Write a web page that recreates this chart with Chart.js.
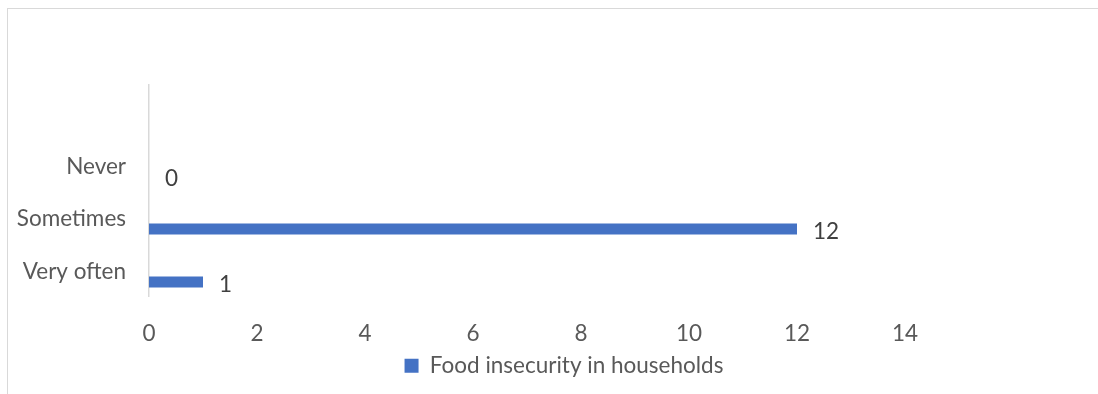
<!DOCTYPE html>
<html>
<head>
<meta charset="utf-8">
<script src="https://cdn.jsdelivr.net/npm/chart.js@4/dist/chart.umd.min.js"></script>
<style>
  html, body { margin: 0; padding: 0; background: #ffffff; }
  body { width: 1098px; height: 394px; position: relative; overflow: hidden; }
  #frame {
    position: absolute; left: 7px; top: 8px; width: 1091px; height: 386px;
    box-sizing: border-box; border-top: 1px solid #d9d9d9; border-left: 1px solid #d9d9d9;
  }
  #chart { display: block; }
</style>
</head>
<body>
<div id="frame"><canvas id="chart" width="1090" height="385"></canvas></div>
<script>
// Response categories, top to bottom (the first slot is an unused band)
const categories = ['', 'Never', 'Sometimes', 'Very often'];
// Number of households per response
const householdCounts = [null, 0, 12, 1];
// Companion series with no values: it only reserves the upper slot of each band
const emptySeries = [null, null, null, null];
const seriesName = 'Food insecurity in households';
const xTicks = [0, 2, 4, 6, 8, 10, 12, 14];

const FONT = 'Lato, "Open Sans", sans-serif';
const FONT_SIZE = 22.5;

// Writes each value just past the end of its bar
const valueLabels = {
  id: 'valueLabels',
  afterDatasetsDraw(chart) {
    const ctx = chart.ctx;
    const meta = chart.getDatasetMeta(1);
    const data = chart.data.datasets[1].data;
    ctx.save();
    ctx.font = FONT_SIZE + 'px ' + FONT;
    ctx.fillStyle = '#404040';
    ctx.textAlign = 'left';
    ctx.textBaseline = 'middle';
    meta.data.forEach((bar, i) => {
      const v = data[i];
      if (v === null || v === undefined) return;
      ctx.fillText(String(v), bar.x + 16, bar.y + 3);
    });
    ctx.restore();
  }
};

// Nudges the legend band so its entry sits a little right of the canvas centre
const legendShift = {
  id: 'legendShift',
  afterLayout(chart) {
    if (chart.legend) chart.legend.left = 22;
  }
};

new Chart(document.getElementById('chart'), {
  type: 'bar',
  data: {
    labels: categories,
    datasets: [
      {
        label: 'spacer',
        data: emptySeries,
        backgroundColor: '#ed7d31',
        categoryPercentage: 0.9,
        barPercentage: 0.46
      },
      {
        label: seriesName,
        data: householdCounts,
        backgroundColor: '#4472c4',
        categoryPercentage: 0.9,
        barPercentage: 0.46
      }
    ]
  },
  options: {
    indexAxis: 'y',
    responsive: false,
    animation: false,
    layout: { padding: { left: 0, top: 76, right: 0, bottom: 7 } },
    plugins: {
      tooltip: { enabled: false },
      legend: {
        position: 'bottom',
        labels: {
          filter: (item) => item.datasetIndex === 1,
          boxWidth: 14,
          boxHeight: 14,
          padding: 8,
          color: '#595959',
          font: { family: FONT, size: FONT_SIZE }
        }
      }
    },
    scales: {
      x: {
        min: 0,
        max: 14,
        afterBuildTicks(scale) { scale.ticks = xTicks.map(v => ({ value: v })); },
        afterFit(scale) { scale.height = 50; scale.paddingRight = 193; },
        grid: { display: false, drawTicks: false },
        border: { display: false },
        ticks: {
          padding: 24,
          color: '#595959',
          font: { family: FONT, size: FONT_SIZE }
        }
      },
      y: {
        afterFit(scale) { scale.width = 141; },
        grid: { display: false, drawTicks: false },
        border: { display: true, color: '#d9d9d9', width: 1.5 },
        ticks: {
          padding: 23,
          labelOffset: 2,
          color: '#595959',
          font: { family: FONT, size: FONT_SIZE }
        }
      }
    }
  },
  plugins: [valueLabels, legendShift]
});
</script>
</body>
</html>
